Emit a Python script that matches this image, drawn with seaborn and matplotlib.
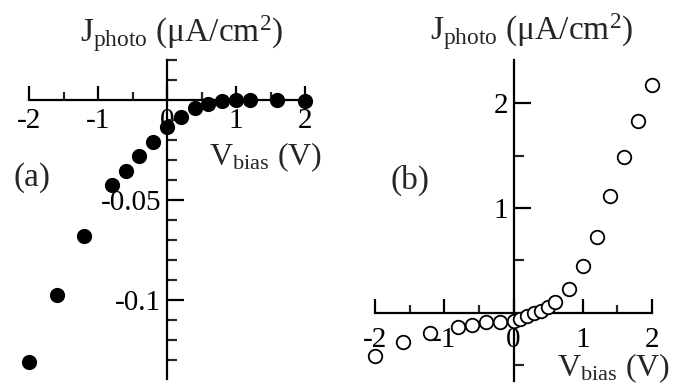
import numpy as np
import pandas as pd
import matplotlib
matplotlib.use("Agg")
import matplotlib.pyplot as plt
import seaborn as sns

# Panel (a) data
va = [-2.0, -1.6, -1.2, -0.8, -0.6, -0.4, -0.2, 0.0, 0.2, 0.4, 0.6, 0.8, 1.0, 1.2, 1.6, 2.0]
ja = [-0.131, -0.0975, -0.068, -0.0425, -0.0355, -0.028, -0.021, -0.0135,
      -0.0085, -0.004, -0.002, -0.0005, 0.0, 0.0, 0.0, -0.0005]
# Panel (b) data
vb = [-2.0, -1.6, -1.2, -0.8, -0.6, -0.4, -0.2, 0.0, 0.1, 0.2, 0.3, 0.4, 0.5, 0.6,
      0.8, 1.0, 1.2, 1.4, 1.6, 1.8, 2.0]
jb = [-0.41, -0.28, -0.19, -0.13, -0.11, -0.09, -0.085, -0.08, -0.06, -0.03, 0.0,
      0.02, 0.06, 0.10, 0.23, 0.45, 0.72, 1.11, 1.49, 1.83, 2.17]

xticks = [-2, -1, 0, 1, 2]
xtick_labels = ["-2", "-1", "0", "1", "2"]
yticks_a = [-0.1, -0.05]
ytick_labels_a = ["-0.1", "-0.05"]
yticks_b = [1, 2]
ytick_labels_b = ["1", "2"]

sns.set_style("ticks")
plt.rcParams["font.family"] = ["Liberation Serif", "DejaVu Serif"]
plt.rcParams["mathtext.fontset"] = "custom"
plt.rcParams["mathtext.rm"] = "Liberation Serif"
plt.rcParams["mathtext.it"] = "Liberation Serif:italic"

W, H = 674, 388
fig = plt.figure(figsize=(W / 100, H / 100), dpi=100)


def px_axes(left, top, right, bottom):
    return fig.add_axes([left / W, 1 - bottom / H, (right - left) / W, (bottom - top) / H])


def style(ax, xpad):
    for s in ["top", "right"]:
        ax.spines[s].set_visible(False)
    ax.spines["bottom"].set_position(("data", 0))
    ax.spines["left"].set_position(("data", 0))
    ax.spines["bottom"].set_bounds(-2, 2)
    for s in ["bottom", "left"]:
        ax.spines[s].set_linewidth(1.6)
        ax.spines[s].set_color("black")
        ax.spines[s].set_zorder(1)
    ax.set_xticks(xticks)
    ax.set_xticklabels(xtick_labels)
    ax.set_xticks([-1.5, -0.5, 0.5, 1.5], minor=True)
    ax.tick_params(axis="x", which="major", direction="in", length=10, width=1.6,
                   labelsize=21, pad=xpad, colors="black")
    ax.tick_params(axis="x", which="minor", direction="in", length=6, width=1.6)
    ax.tick_params(axis="y", which="major", direction="in", length=12, width=1.6,
                   labelsize=21, pad=4, colors="black")
    ax.tick_params(axis="y", which="minor", direction="in", length=7, width=1.6)
    ax.set_xlabel("")
    ax.set_ylabel("")
    ax.patch.set_alpha(0)


# Panel (a)
axa = px_axes(20, 60, 315, 379)
dfa = pd.DataFrame({"V": va, "J": ja})
sns.scatterplot(data=dfa, x="V", y="J", ax=axa, s=120, color="black",
                edgecolor="black", linewidth=0, zorder=5, clip_on=False)
axa.set_xlim((20 - 167) / 69, (315 - 167) / 69)
axa.set_ylim(-0.1395, 0.02)
style(axa, 6)
axa.set_yticks(yticks_a)
axa.set_yticklabels(ytick_labels_a)
axa.set_yticks([-0.13, -0.12, -0.11, -0.09, -0.08, -0.07, -0.06, -0.04, -0.03,
                -0.02, -0.01, 0.01, 0.02], minor=True)

# Panel (b)
axb = px_axes(360, 60, 668, 381)
dfb = pd.DataFrame({"V": vb, "J": jb})
sns.scatterplot(data=dfb, x="V", y="J", ax=axb, s=95, facecolor="white",
                edgecolor="black", linewidth=1.3, zorder=5, clip_on=False)
axb.set_xlim((360 - 513.5) / 69.25, (668 - 513.5) / 69.25)
axb.set_ylim(-0.648, 2.41)
style(axb, 10)
axb.set_yticks(yticks_b)
axb.set_yticklabels(ytick_labels_b)
axb.set_yticks([-0.5, 0.5, 1.5], minor=True)

# Texts
def ftext(x, y, s, size, **kw):
    fig.text(x / W, 1 - y / H, s, fontsize=size, ha="center", va="center", **kw)

jlab = "J$_{\\mathrm{photo}}$ (μA/cm$^{2}$)"
vlab = "V$_{\\mathrm{bias}}$ (V)"
ftext(182, 34, jlab, 24)
ftext(266, 157, vlab, 23)
ftext(32, 178, "(a)", 24)
ftext(532, 32, jlab, 24)
ftext(614, 368, vlab, 23)
ftext(410, 180, "(b)", 24)

fig.savefig("out.png", dpi=100)
